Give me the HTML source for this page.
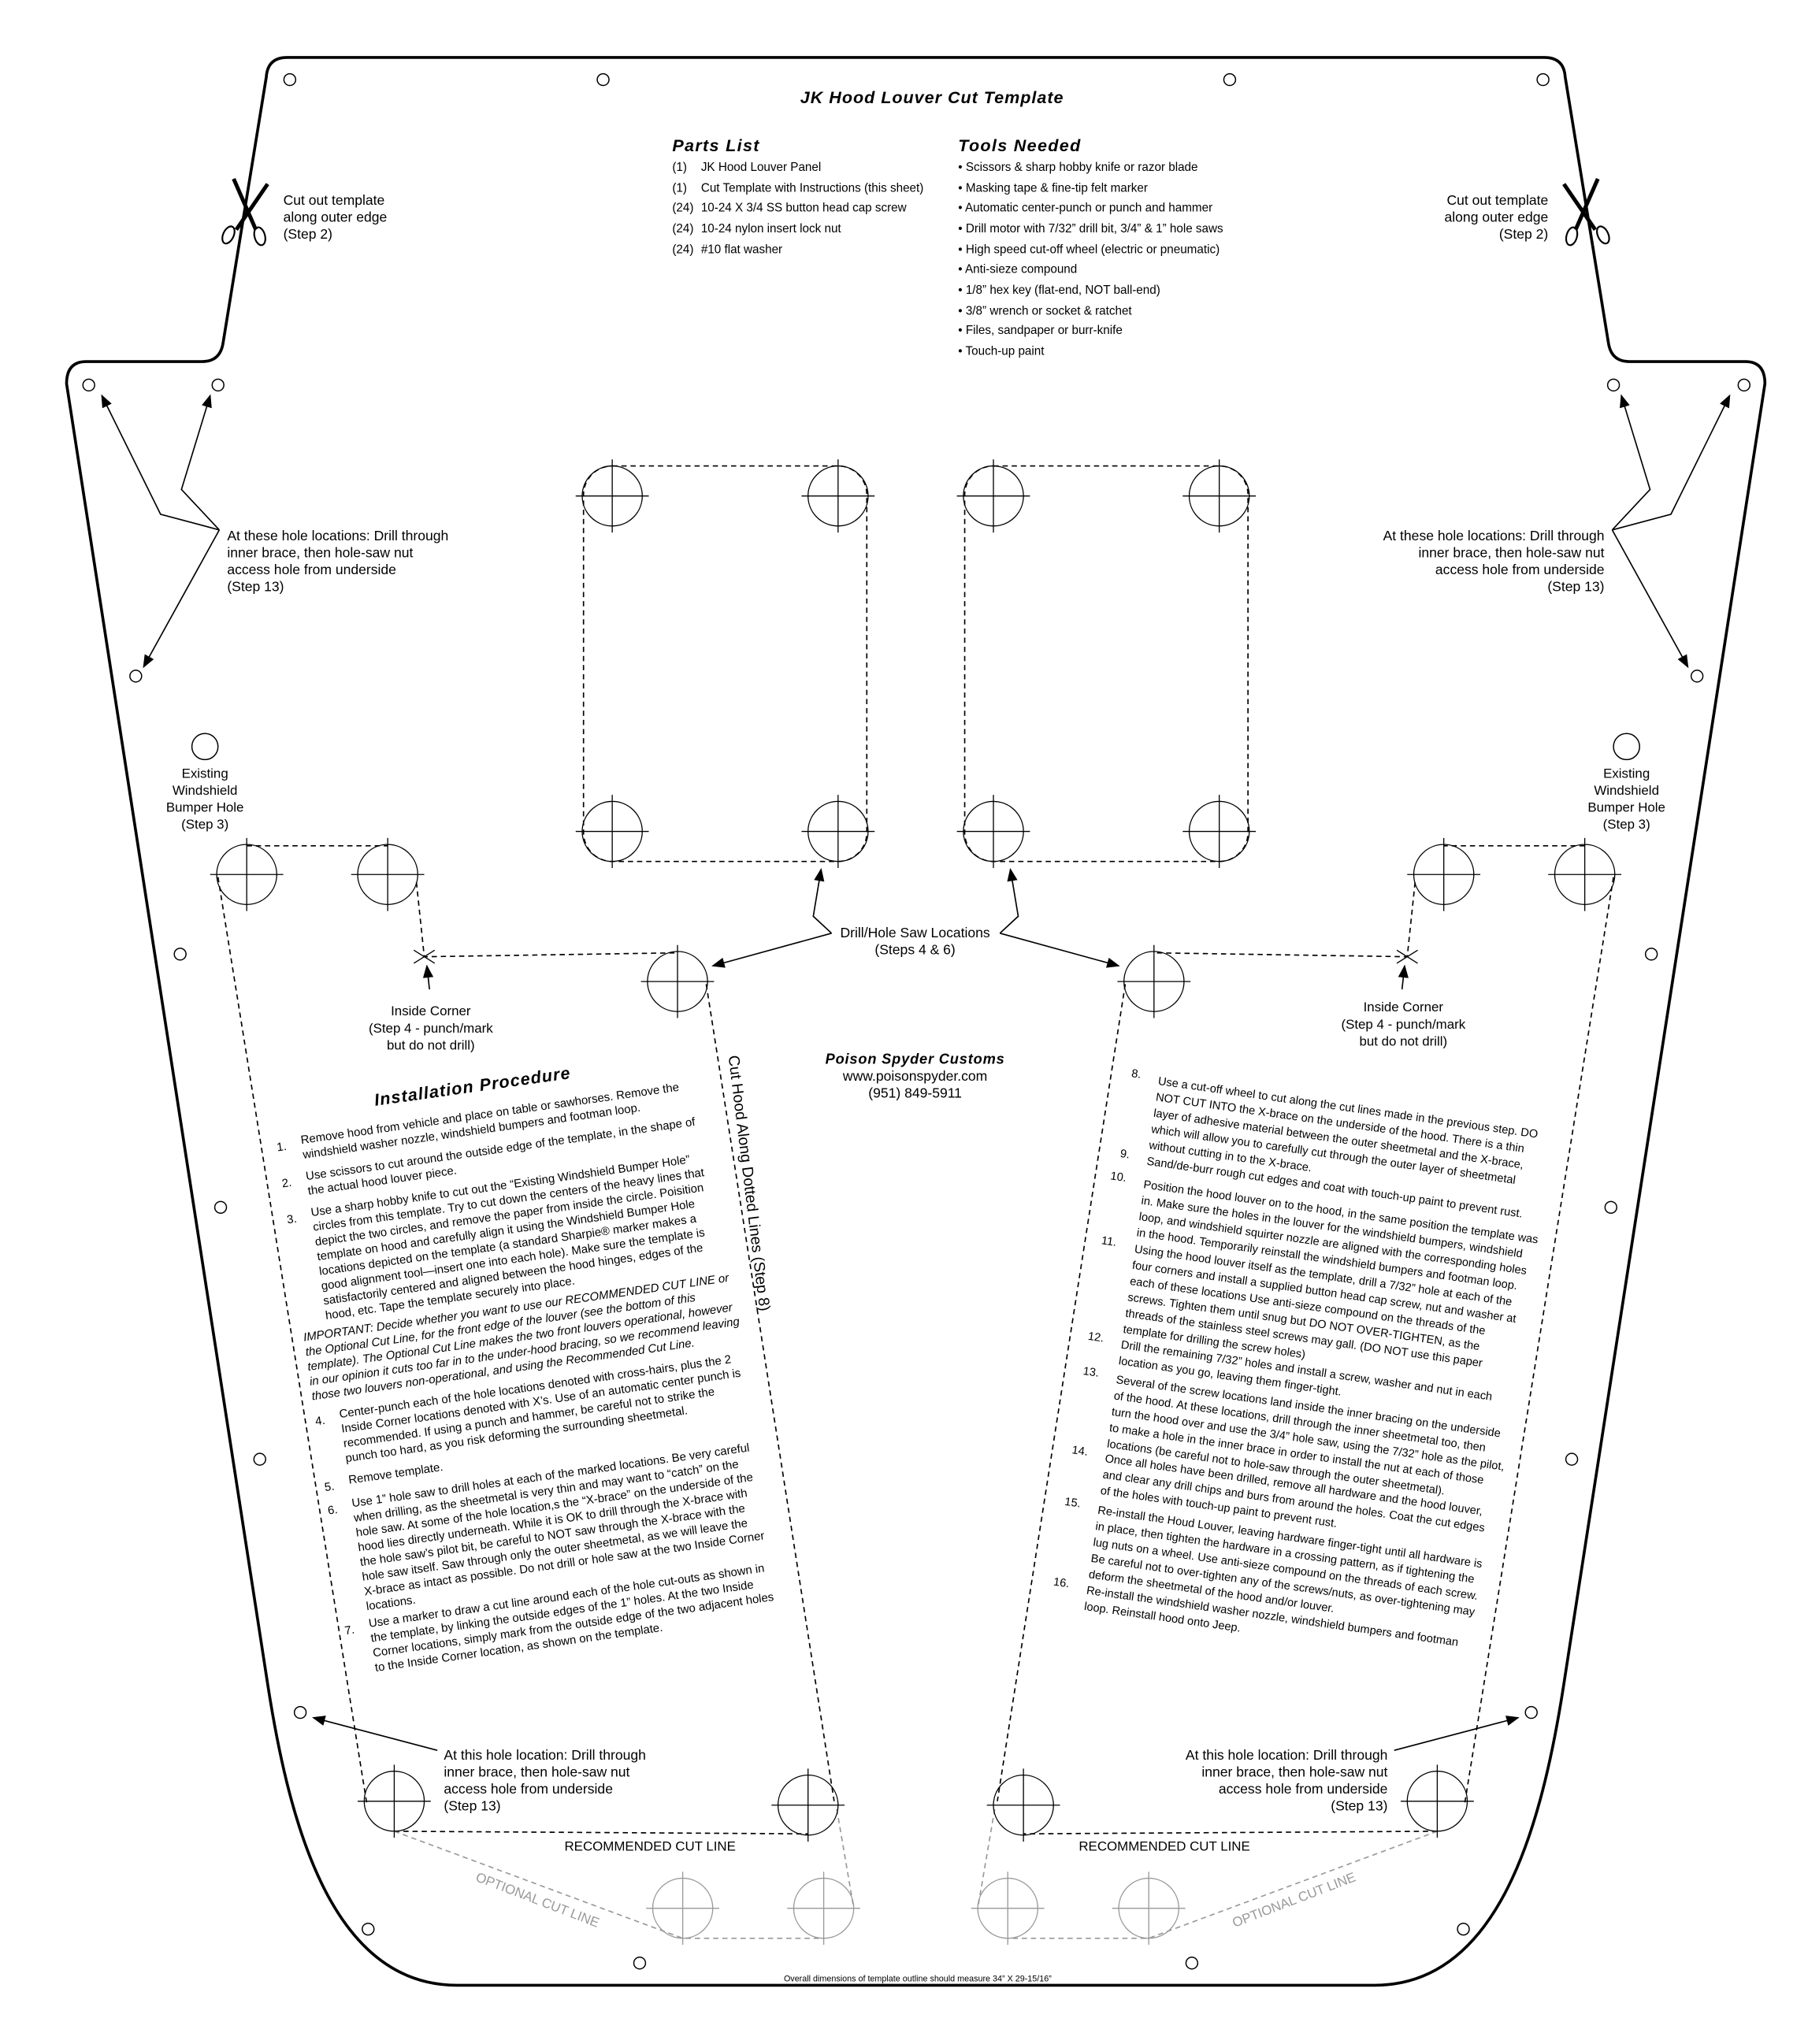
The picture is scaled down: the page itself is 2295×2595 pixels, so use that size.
<!DOCTYPE html>
<html><head><meta charset="utf-8"><style>
html,body{margin:0;padding:0;background:#fff}
svg{display:block}
text{font-family:"Liberation Sans",Arial,sans-serif;fill:#000}
.b{font-weight:bold;font-style:italic}
</style></head><body>
<svg width="2295" height="2595" viewBox="0 0 1385 1566" preserveAspectRatio="none" xmlns="http://www.w3.org/2000/svg">
<defs>
<g id="h"><circle cx="0" cy="0" r="23" fill="none" stroke="#000" stroke-width="0.8"/><path d="M-28 0H28M0 -28V28" stroke="#000" stroke-width="0.8"/></g>
<g id="g"><circle cx="0" cy="0" r="23" fill="none" stroke="#999" stroke-width="0.8"/><path d="M-28 0H28M0 -28V28" stroke="#999" stroke-width="0.8"/></g>
<marker id="ar" markerWidth="10" markerHeight="8" refX="9" refY="4" orient="auto" markerUnits="userSpaceOnUse"><path d="M0,0 L10,4 L0,8 Z" fill="#000"/></marker>
</defs>
<rect width="1385" height="1566" fill="#fff"/>
<path d="M220,44 L1183,44 Q1198,44 1199,59 L1232,262 Q1234,277 1248,277 L1337,277 Q1352,277 1352,294 L1198,1290 C1181,1400 1148,1521 1053,1521 L350,1521 C255,1521 222,1400 205,1290 L51,294 Q51,277 66,277 L155,277 Q169,277 171,262 L204,59 Q205,44 220,44 Z" fill="none" stroke="#000" stroke-width="2.2"/>
<g fill="none" stroke="#000" stroke-width="0.9">
<circle cx="222" cy="61" r="4.5"/><circle cx="462" cy="61" r="4.5"/><circle cx="942" cy="61" r="4.5"/><circle cx="1182" cy="61" r="4.5"/>
<circle cx="68" cy="295" r="4.5"/><circle cx="167" cy="295" r="4.5"/><circle cx="1236" cy="295" r="4.5"/><circle cx="1336" cy="295" r="4.5"/>
<circle cx="104" cy="518" r="4.5"/><circle cx="1300" cy="518" r="4.5"/>
<circle cx="138" cy="731" r="4.5"/><circle cx="169" cy="925" r="4.5"/><circle cx="199" cy="1118" r="4.5"/><circle cx="230" cy="1312" r="4.5"/>
<circle cx="1265" cy="731" r="4.5"/><circle cx="1234" cy="925" r="4.5"/><circle cx="1204" cy="1118" r="4.5"/><circle cx="1173" cy="1312" r="4.5"/>
<circle cx="282" cy="1478" r="4.5"/><circle cx="490" cy="1504" r="4.5"/><circle cx="913" cy="1504" r="4.5"/><circle cx="1121" cy="1478" r="4.5"/>
<circle cx="157" cy="572" r="10"/><circle cx="1246" cy="572" r="10"/>
</g>
<g stroke="#000" fill="none">
<path d="M179,137 L196,176" stroke-width="3"/><path d="M205,141 L181,176" stroke-width="3"/>
<ellipse cx="175" cy="180" rx="4" ry="7" stroke-width="1.3" transform="rotate(25 175 180)"/><ellipse cx="199" cy="181" rx="4" ry="7" stroke-width="1.3" transform="rotate(-15 199 181)"/>
<path d="M1224,137 L1207,176" stroke-width="3"/><path d="M1198,141 L1222,176" stroke-width="3"/>
<ellipse cx="1228" cy="180" rx="4" ry="7" stroke-width="1.3" transform="rotate(-25 1228 180)"/><ellipse cx="1204" cy="181" rx="4" ry="7" stroke-width="1.3" transform="rotate(15 1204 181)"/>
</g>
<text x="714" y="79" class="b" font-size="13" letter-spacing="0.6" text-anchor="middle">JK Hood Louver Cut Template</text>
<text x="515" y="116" class="b" font-size="13" letter-spacing="0.8">Parts List</text>
<text x="734" y="116" class="b" font-size="13" letter-spacing="0.8">Tools Needed</text>
<g font-size="9.2">
<text x="515" y="131">(1)</text><text x="537" y="131">JK Hood Louver Panel</text>
<text x="515" y="147">(1)</text><text x="537" y="147">Cut Template with Instructions (this sheet)</text>
<text x="515" y="162">(24)</text><text x="537" y="162">10-24 X 3/4 SS button head cap screw</text>
<text x="515" y="178">(24)</text><text x="537" y="178">10-24 nylon insert lock nut</text>
<text x="515" y="194">(24)</text><text x="537" y="194">#10 flat washer</text>
<text x="734" y="131">• Scissors &amp; sharp hobby knife or razor blade</text>
<text x="734" y="147">• Masking tape &amp; fine-tip felt marker</text>
<text x="734" y="162">• Automatic center-punch or punch and hammer</text>
<text x="734" y="178">• Drill motor with 7/32” drill bit, 3/4” &amp; 1” hole saws</text>
<text x="734" y="194">• High speed cut-off wheel (electric or pneumatic)</text>
<text x="734" y="209">• Anti-sieze compound</text>
<text x="734" y="225">• 1/8” hex key (flat-end, NOT ball-end)</text>
<text x="734" y="241">• 3/8” wrench or socket &amp; ratchet</text>
<text x="734" y="256">• Files, sandpaper or burr-knife</text>
<text x="734" y="272">• Touch-up paint</text>
</g>
<g font-size="10.6">
<text x="217" y="157">Cut out template</text><text x="217" y="170">along outer edge</text><text x="217" y="183">(Step  2)</text>
<text x="1186" y="157" text-anchor="end">Cut out template</text><text x="1186" y="170" text-anchor="end">along outer edge</text><text x="1186" y="183" text-anchor="end">(Step  2)</text>
<text x="174" y="414">At these hole locations: Drill through</text><text x="174" y="427">inner brace, then hole-saw nut</text><text x="174" y="440">access hole from underside</text><text x="174" y="453">(Step 13)</text>
<text x="1229" y="414" text-anchor="end">At these hole locations: Drill through</text><text x="1229" y="427" text-anchor="end">inner brace, then hole-saw nut</text><text x="1229" y="440" text-anchor="end">access hole from underside</text><text x="1229" y="453" text-anchor="end">(Step 13)</text>
<text x="340" y="1348">At this hole location: Drill through</text><text x="340" y="1361">inner brace, then hole-saw nut</text><text x="340" y="1374">access hole from underside</text><text x="340" y="1387">(Step 13)</text>
<text x="1063" y="1348" text-anchor="end">At this hole location: Drill through</text><text x="1063" y="1361" text-anchor="end">inner brace, then hole-saw nut</text><text x="1063" y="1374" text-anchor="end">access hole from underside</text><text x="1063" y="1387" text-anchor="end">(Step 13)</text>
<text x="701" y="718" text-anchor="middle">Drill/Hole Saw Locations</text><text x="701" y="731" text-anchor="middle">(Steps 4 &amp; 6)</text>
<text x="701" y="828" text-anchor="middle">www.poisonspyder.com</text><text x="701" y="841" text-anchor="middle">(951) 849-5911</text>
</g>
<text x="701" y="815" class="b" font-size="11" letter-spacing="0.5" text-anchor="middle">Poison Spyder Customs</text>
<g font-size="10.2" text-anchor="middle">
<text x="157" y="596">Existing</text><text x="157" y="609">Windshield</text><text x="157" y="622">Bumper Hole</text><text x="157" y="635">(Step 3)</text>
<text x="1246" y="596">Existing</text><text x="1246" y="609">Windshield</text><text x="1246" y="622">Bumper Hole</text><text x="1246" y="635">(Step 3)</text>
<text x="330" y="778">Inside Corner</text><text x="330" y="791">(Step 4 - punch/mark</text><text x="330" y="804">but do not drill)</text>
<text x="1075" y="775">Inside Corner</text><text x="1075" y="788">(Step 4 - punch/mark</text><text x="1075" y="801">but do not drill)</text>
<text x="498" y="1418">RECOMMENDED CUT LINE</text><text x="892" y="1418">RECOMMENDED CUT LINE</text>
<text x="412" y="1459" style="fill:#999" transform="rotate(21 412 1455)">OPTIONAL CUT LINE</text>
<text x="991" y="1459" style="fill:#999" transform="rotate(-21 991 1455)">OPTIONAL CUT LINE</text>
</g>
<text x="703" y="1518" font-size="6.5" text-anchor="middle">Overall dimensions of template outline should measure 34” X 29-15/16”</text>
<text x="558" y="809" font-size="11.8" transform="rotate(83 558 809)">Cut Hood Along Dotted Lines (Step 8)</text>
<g stroke="#000" stroke-width="1" fill="none" marker-end="url(#ar)">
<polyline points="168,406 123,394 78,303"/><polyline points="168,406 139,375 161,303"/><polyline points="168,406 110,511"/>
<polyline points="1235,406 1280,394 1325,303"/><polyline points="1235,406 1264,375 1242,303"/><polyline points="1235,406 1293,511"/>
<polyline points="335,1341 240,1316"/><polyline points="1068,1341 1163,1316"/>
<polyline points="637,715 623,702 629,666"/><polyline points="637,715 546,740"/>
<polyline points="766,715 780,702 774,666"/><polyline points="766,715 857,740"/>
<polyline points="329,758 327,740"/><polyline points="1074,758 1076,740"/>
</g>
<g fill="none" stroke="#000" stroke-width="1" stroke-dasharray="4 3">
<rect x="447" y="357" width="217" height="303" rx="22"/><rect x="739" y="357" width="217" height="303" rx="22"/>
<path d="M189,648 L297,648 M319,676 L325,733 L519,730 M167,672 L281,1382 M541,754 L639,1380 M302,1403 L619,1405"/>
<path d="M1214,648 L1106,648 M1084,676 L1078,733 L884,730 M1236,672 L1122,1382 M862,754 L764,1380 M1101,1403 L784,1405"/>
</g>
<g fill="none" stroke="#999" stroke-width="1" stroke-dasharray="4 3">
<path d="M302,1403 L523,1485 L631,1485 M641,1386 L654,1462"/>
<path d="M1101,1403 L880,1485 L772,1485 M762,1386 L749,1462"/>
</g>
<path d="M317,728 L333,738 M317,738 L333,728 M1070,728 L1086,738 M1070,738 L1086,728" stroke="#000" stroke-width="0.8"/>
<use href="#h" x="469" y="380"/><use href="#h" x="642" y="380"/><use href="#h" x="469" y="637"/><use href="#h" x="642" y="637"/>
<use href="#h" x="761" y="380"/><use href="#h" x="934" y="380"/><use href="#h" x="761" y="637"/><use href="#h" x="934" y="637"/>
<use href="#h" x="189" y="670"/><use href="#h" x="297" y="670"/><use href="#h" x="519" y="752"/><use href="#h" x="302" y="1380"/><use href="#h" x="619" y="1383"/>
<use href="#h" x="1214" y="670"/><use href="#h" x="1106" y="670"/><use href="#h" x="884" y="752"/><use href="#h" x="1101" y="1380"/><use href="#h" x="784" y="1383"/>
<use href="#g" x="523" y="1462"/><use href="#g" x="631" y="1462"/><use href="#g" x="880" y="1462"/><use href="#g" x="772" y="1462"/>
<g transform="translate(212,879) rotate(-8)" font-size="9">
<text x="155" y="-21" class="b" font-size="13" letter-spacing="0.7" text-anchor="middle">Installation Procedure</text>
<text x="0" y="3">1.</text><text x="19" y="0">Remove hood from vehicle and place on table or sawhorses.  Remove the</text><text x="19" y="11.4">windshield washer nozzle, windshield bumpers and footman loop.</text>
<text x="0" y="31">2.</text><text x="19" y="28">Use scissors to cut around the outside edge of the template, in the shape of</text><text x="19" y="39.4">the actual hood louver piece.</text>
<text x="0" y="59">3.</text><text x="19" y="56">Use a sharp hobby knife to cut out the “Existing Windshield Bumper Hole”</text>
<text x="19" y="67.4">circles from this template.  Try to cut down the centers of the heavy lines that</text>
<text x="19" y="78.8">depict the two circles, and remove the paper from inside the circle.  Poisition</text>
<text x="19" y="90.2">template on hood and carefully align it using the Windshield Bumper Hole</text>
<text x="19" y="101.6">locations depicted on the template (a standard Sharpie® marker makes a</text>
<text x="19" y="113">good alignment tool—insert one into each hole).  Make sure the template is</text>
<text x="19" y="124.4">satisfactorily centered and aligned between the hood hinges, edges of the</text>
<text x="19" y="135.8">hood, etc.  Tape the template securely into place.</text>
<g font-style="italic">
<text x="0" y="150">IMPORTANT: Decide whether you want to use our RECOMMENDED CUT LINE or</text>
<text x="0" y="161.4">the Optional Cut Line, for the front edge of the louver (see the bottom of this</text>
<text x="0" y="172.8">template).  The Optional Cut Line makes the two front louvers operational, however</text>
<text x="0" y="184.2">in our opinion it cuts too far in to the under-hood bracing, so we recommend leaving</text>
<text x="0" y="195.6">those two louvers non-operational, and using the Recommended Cut Line.</text>
</g>
<text x="0" y="215">4.</text><text x="19" y="212">Center-punch each of the hole locations denoted with cross-hairs, plus the 2</text>
<text x="19" y="223.4">Inside Corner locations denoted with X’s.  Use of an automatic center punch is</text>
<text x="19" y="234.8">recommended.  If using a punch and hammer, be careful not to strike the</text>
<text x="19" y="246.2">punch too hard, as you risk deforming the surrounding sheetmetal.</text>
<text x="0" y="266">5.</text><text x="19" y="263">Remove template.</text>
<text x="0" y="284">6.</text><text x="19" y="281">Use 1” hole saw to drill holes at each of the marked locations.  Be very careful</text>
<text x="19" y="292.4">when drilling, as the sheetmetal is very thin and may want to “catch” on the</text>
<text x="19" y="303.8">hole saw.  At some of the hole location,s the “X-brace” on the underside of the</text>
<text x="19" y="315.2">hood lies directly underneath.  While it is OK to drill through the X-brace with</text>
<text x="19" y="326.6">the hole saw’s pilot bit, be careful to NOT saw through the X-brace with the</text>
<text x="19" y="338">hole saw itself.  Saw through only the outer sheetmetal, as we will leave the</text>
<text x="19" y="349.4">X-brace as intact as possible.  Do not drill or hole saw at the two Inside Corner</text>
<text x="19" y="360.8">locations.</text>
<text x="0" y="377">7.</text><text x="19" y="374">Use a marker to draw a cut line around each of the hole cut-outs as shown in</text>
<text x="19" y="385.4">the template, by linking the outside edges of the 1” holes.  At the two Inside</text>
<text x="19" y="396.8">Corner locations, simply mark from the outside edge of the two adjacent holes</text>
<text x="19" y="408.2">to the Inside Corner location, as shown on the template.</text>
</g>
<g transform="translate(866,828) rotate(8)" font-size="8.8">
<text x="0" y="-3">8.</text><text x="21" y="0">Use a cut-off wheel to cut along the cut lines made in the previous step.  DO</text>
<text x="21" y="12.4">NOT CUT INTO the X-brace on the underside of the hood.  There is a thin</text>
<text x="21" y="24.8">layer of adhesive material between the outer sheetmetal and the X-brace,</text>
<text x="21" y="37.2">which will allow you to carefully cut through the outer layer of sheetmetal</text>
<text x="21" y="49.6">without cutting in to the X-brace.</text>
<text x="0" y="59">9.</text><text x="21" y="62">Sand/de-burr rough cut edges and coat with touch-up paint to prevent rust.</text>
<text x="-5" y="77">10.</text><text x="21" y="80">Position the hood louver on to the hood, in the same position the template was</text>
<text x="21" y="92.4">in.  Make sure the holes in the louver for the windshield bumpers, windshield</text>
<text x="21" y="104.8">loop, and windshield squirter nozzle are aligned with the corresponding holes</text>
<text x="21" y="117.2">in the hood.  Temporarily reinstall the windshield bumpers and footman loop.</text>
<text x="-5" y="127">11.</text><text x="21" y="130">Using the hood louver itself as the template, drill a 7/32” hole at each of the</text>
<text x="21" y="142.4">four corners and install a supplied button head cap screw, nut and washer at</text>
<text x="21" y="154.8">each of these locations  Use anti-sieze compound on the threads of the</text>
<text x="21" y="167.2">screws.  Tighten them until snug but DO NOT OVER-TIGHTEN, as the</text>
<text x="21" y="179.6">threads of the stainless steel screws may gall.  (DO NOT use this paper</text>
<text x="21" y="192">template for drilling the screw holes)</text>
<text x="-5" y="201">12.</text><text x="21" y="204">Drill the remaining 7/32” holes and install a screw, washer and nut in each</text>
<text x="21" y="216.4">location as you go, leaving them finger-tight.</text>
<text x="-5" y="228">13.</text><text x="21" y="231">Several of the screw locations land inside the inner bracing on the underside</text>
<text x="21" y="243.4">of the hood.  At these locations, drill through the inner sheetmetal too, then</text>
<text x="21" y="255.8">turn the hood over and use the 3/4” hole saw, using the 7/32” hole as the pilot,</text>
<text x="21" y="268.2">to make a hole in the inner brace in order to install the nut at each of those</text>
<text x="21" y="280.6">locations (be careful not to hole-saw through the outer sheetmetal).</text>
<text x="-5" y="289">14.</text><text x="21" y="292">Once all holes have been drilled, remove all hardware and the hood louver,</text>
<text x="21" y="304.4">and clear any drill chips and burs from around the holes.  Coat the cut edges</text>
<text x="21" y="316.8">of the holes with touch-up paint to prevent rust.</text>
<text x="-5" y="329">15.</text><text x="21" y="332">Re-install the Houd Louver, leaving hardware finger-tight until all hardware is</text>
<text x="21" y="344.4">in place, then tighten the hardware in a crossing pattern, as if tightening the</text>
<text x="21" y="356.8">lug nuts on a wheel.  Use anti-sieze compound on the threads of each screw.</text>
<text x="21" y="369.2">Be careful not to over-tighten any of the screws/nuts, as over-tightening may</text>
<text x="21" y="381.6">deform the sheetmetal of the hood and/or louver.</text>
<text x="-5" y="391">16.</text><text x="21" y="394">Re-install the windshield washer nozzle, windshield bumpers and footman</text>
<text x="21" y="406.4">loop.  Reinstall hood onto Jeep.</text>
</g>
</svg>
</body></html>
